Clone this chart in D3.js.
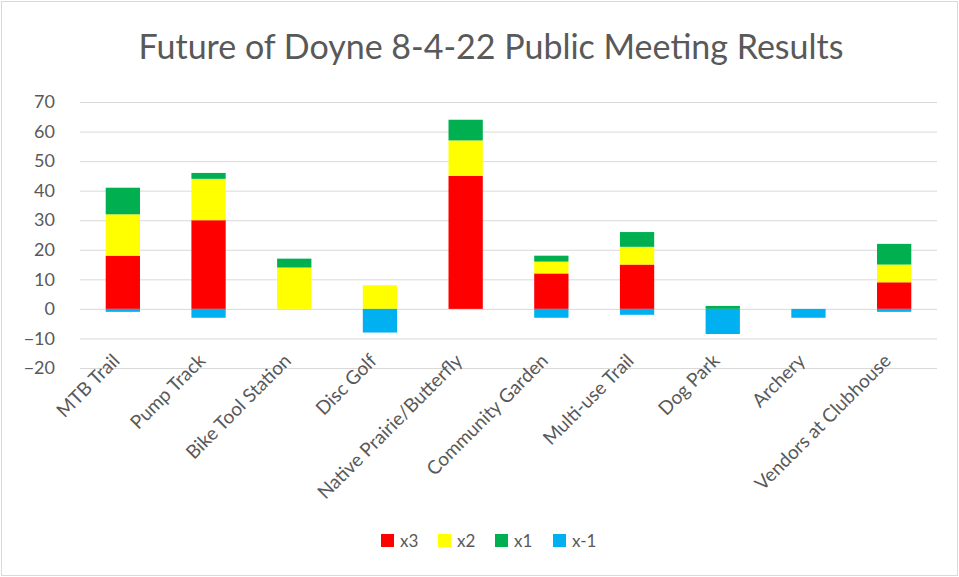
<!DOCTYPE html>
<html>
<head>
<meta charset="utf-8">
<title>Future of Doyne</title>
<script src="https://d3js.org/d3.v7.min.js"></script>
<style>
    body { margin: 0; background: #fff; }
    text { font-family: Lato, "Open Sans", sans-serif; fill: #595959; }
</style>
</head>
<body>
<div id="chart"></div>
<script>
    // Data
    const categories = ['MTB Trail', 'Pump Track', 'Bike Tool Station', 'Disc Golf', 'Native Prairie/Butterfly',
        'Community Garden', 'Multi-use Trail', 'Dog Park', 'Archery', 'Vendors at Clubhouse'];
    const x3 = [18, 30, 0, 0, 45, 12, 15, 0, 0, 9];
    const x2 = [14, 14, 14, 8, 12, 4, 6, 0, 0, 6];
    const x1 = [9, 2, 3, 0, 7, 2, 5, 1, 0, 7];
    const xNeg1 = [-1, -3, 0, -8, 0, -3, -2, -8.5, -3, -1];
    const seriesNames = ['x3', 'x2', 'x1', 'x-1'];
    const yTicks = [-20, -10, 0, 10, 20, 30, 40, 50, 60, 70];

    const colors = ['#ff0000', '#ffff00', '#00b050', '#00b0f0'];

    const W = 959, H = 577;
    const margin = { top: 102, right: 22, bottom: 209, left: 80 };
    const width = W - margin.left - margin.right;
    const height = H - margin.top - margin.bottom;

    const svg = d3.select("#chart").append("svg")
        .attr("width", W)
        .attr("height", H);

    // outer frame
    svg.append("rect")
        .attr("x", 1.5).attr("y", 1.5)
        .attr("width", W - 3).attr("height", H - 3)
        .attr("fill", "none")
        .attr("stroke", "#d9d9d9");

    svg.append("text")
        .attr("x", 491)
        .attr("y", 59)
        .attr("text-anchor", "middle")
        .style("font-size", "34px")
        .text("Future of Doyne 8-4-22 Public Meeting Results");

    const g = svg.append("g")
        .attr("transform", "translate(" + margin.left + "," + margin.top + ")");

    const table = categories.map((c, i) => ({ cat: c, 'x3': x3[i], 'x2': x2[i], 'x1': x1[i], 'x-1': xNeg1[i] }));

    const stacked = d3.stack()
        .keys(seriesNames)
        .offset(d3.stackOffsetDiverging)(table);

    const xScale = d3.scaleBand()
        .domain(categories)
        .range([0, width])
        .paddingInner(0.6)
        .paddingOuter(0.3);

    const yScale = d3.scaleLinear()
        .domain([-20, 70])
        .range([height, 0]);

    // gridlines
    const yAxis = d3.axisLeft(yScale)
        .tickValues(yTicks)
        .tickSize(-width)
        .tickPadding(25);

    const yg = g.append("g").call(yAxis);
    yg.select(".domain").remove();
    yg.selectAll(".tick line").attr("stroke", "#d9d9d9").attr("stroke-width", 1);
    yg.selectAll(".tick text")
        .style("font-size", "18px")
        .style("fill", "#595959");

    // bars
    g.selectAll(".series")
        .data(stacked)
        .enter().append("g")
        .attr("fill", (d, i) => colors[i])
        .selectAll("rect")
        .data(d => d)
        .enter().append("rect")
        .attr("x", d => xScale(d.data.cat))
        .attr("width", xScale.bandwidth())
        .attr("y", d => yScale(Math.max(d[0], d[1])))
        .attr("height", d => Math.abs(yScale(d[0]) - yScale(d[1])));

    // category labels
    const xAxis = d3.axisBottom(xScale).tickSize(0).tickPadding(0);
    const xg = g.append("g")
        .attr("transform", "translate(0," + height + ")")
        .call(xAxis);
    xg.select(".domain").remove();
    xg.selectAll(".tick text")
        .style("font-size", "19px")
        .style("fill", "#595959")
        .attr("text-anchor", "end")
        .attr("dy", null)
        .attr("transform", "translate(-2,-6) rotate(-45)");

    // legend
    const legendX = [381, 438, 495, 553];
    const legend = svg.append("g");
    seriesNames.forEach((s, i) => {
        legend.append("rect")
            .attr("x", legendX[i]).attr("y", 534)
            .attr("width", 13).attr("height", 13)
            .attr("fill", colors[i]);
        legend.append("text")
            .attr("x", legendX[i] + 19).attr("y", 547)
            .style("font-size", "17px")
            .text(s);
    });
</script>
</body>
</html>
